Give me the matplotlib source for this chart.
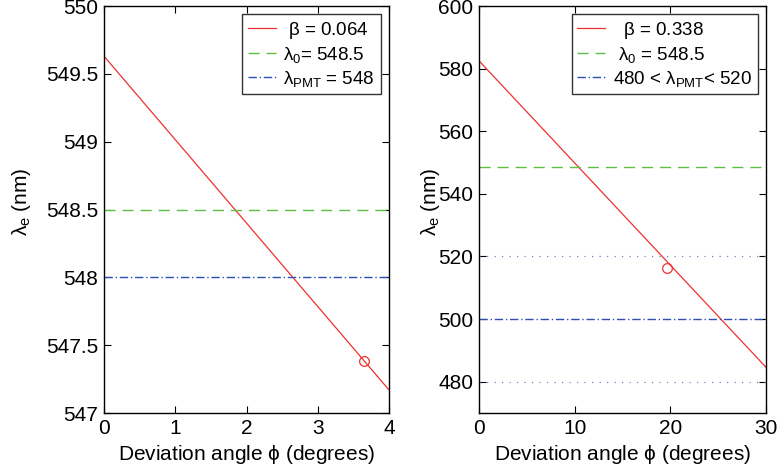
import matplotlib
matplotlib.use("Agg")
import matplotlib.pyplot as plt

plt.rcParams['font.family'] = ['Liberation Sans', 'DejaVu Sans']
plt.rcParams['mathtext.fontset'] = 'custom'
plt.rcParams['mathtext.rm'] = 'Liberation Sans'
plt.rcParams['mathtext.it'] = 'Liberation Sans'

# Left panel: beta = 0.064
phi_left = [0, 4]
lam_left = [549.63, 547.17]
marker_left = (3.65, 547.38)
lam0 = 548.5
lam_pmt_left = 548

# Right panel: beta = 0.338
phi_right = [0, 30]
lam_right = [582.5, 484.6]
marker_right = (19.6, 516.2)
lam_pmt_right = 500
pmt_band = [480, 520]

red = '#f03030'
green = '#5cc040'
blue = '#3050b0'
band_col = '#7080b8'

fig = plt.figure(figsize=(7.82, 4.73), dpi=100)
axL = fig.add_axes([104/782, 1-413/473, 285/782, 407/473])
axR = fig.add_axes([479/782, 1-413/473, 287/782, 407/473])

# left
axL.plot(phi_left, lam_left, color=red, lw=0.9, label=r' $\beta$ = 0.064')
axL.axhline(lam0, color=green, lw=1.0, dashes=(8, 5), label=r'$\lambda_0$= 548.5')
axL.axhline(lam_pmt_left, color=blue, lw=1.0, dashes=(6, 2, 1, 2), label=r'$\lambda_{\rm PMT}$ = 548')
axL.plot(*marker_left, 'o', mfc='none', mec=red, ms=7, mew=0.9)
axL.set_xlim(0, 4)
axL.set_ylim(547, 550)
axL.set_xticks([0, 1, 2, 3, 4])
axL.set_yticks([547, 547.5, 548, 548.5, 549, 549.5, 550])
axL.set_yticklabels(['547', '547.5', '548', '548.5', '549', '549.5', '550'])

# right
axR.plot(phi_right, lam_right, color=red, lw=0.9, label=r'  $\beta$ = 0.338')
axR.axhline(lam0, color=green, lw=1.0, dashes=(8, 5), label=r' $\lambda_0$ = 548.5')
axR.axhline(lam_pmt_right, color=blue, lw=1.0, dashes=(6, 2, 1, 2), label=r'480 < $\lambda_{\rm PMT}$< 520')
for y in pmt_band:
    axR.axhline(y, color=band_col, lw=0.9, dashes=(1, 5))
axR.plot(*marker_right, 'o', mfc='none', mec=red, ms=7, mew=0.9)
axR.set_xlim(0, 30)
axR.set_ylim(470, 600)
axR.set_xticks([0, 10, 20, 30])
axR.set_yticks([480, 500, 520, 540, 560, 580, 600])

for ax in (axL, axR):
    ax.tick_params(direction='in', top=True, right=True, labelsize=15, length=5, width=0.8, pad=4)
    for s in ax.spines.values():
        s.set_linewidth(1.0)
    ax.set_xlabel(r'Deviation angle $\phi$ (degrees)', fontsize=15)
    ax.set_ylabel(r'$\lambda_{\rm e}$ (nm)', fontsize=15)
    leg = ax.legend(loc='upper right', fontsize=13.5, frameon=True, fancybox=False,
                    edgecolor='black', handlelength=1.5, handletextpad=0.4,
                    borderaxespad=0.45, labelspacing=0.2, borderpad=0.3)
    leg.get_frame().set_linewidth(1.0)

axL.yaxis.set_label_coords(-0.25, 0.52)
axR.yaxis.set_label_coords(-0.13, 0.52)

fig.savefig('out.png', dpi=100)
